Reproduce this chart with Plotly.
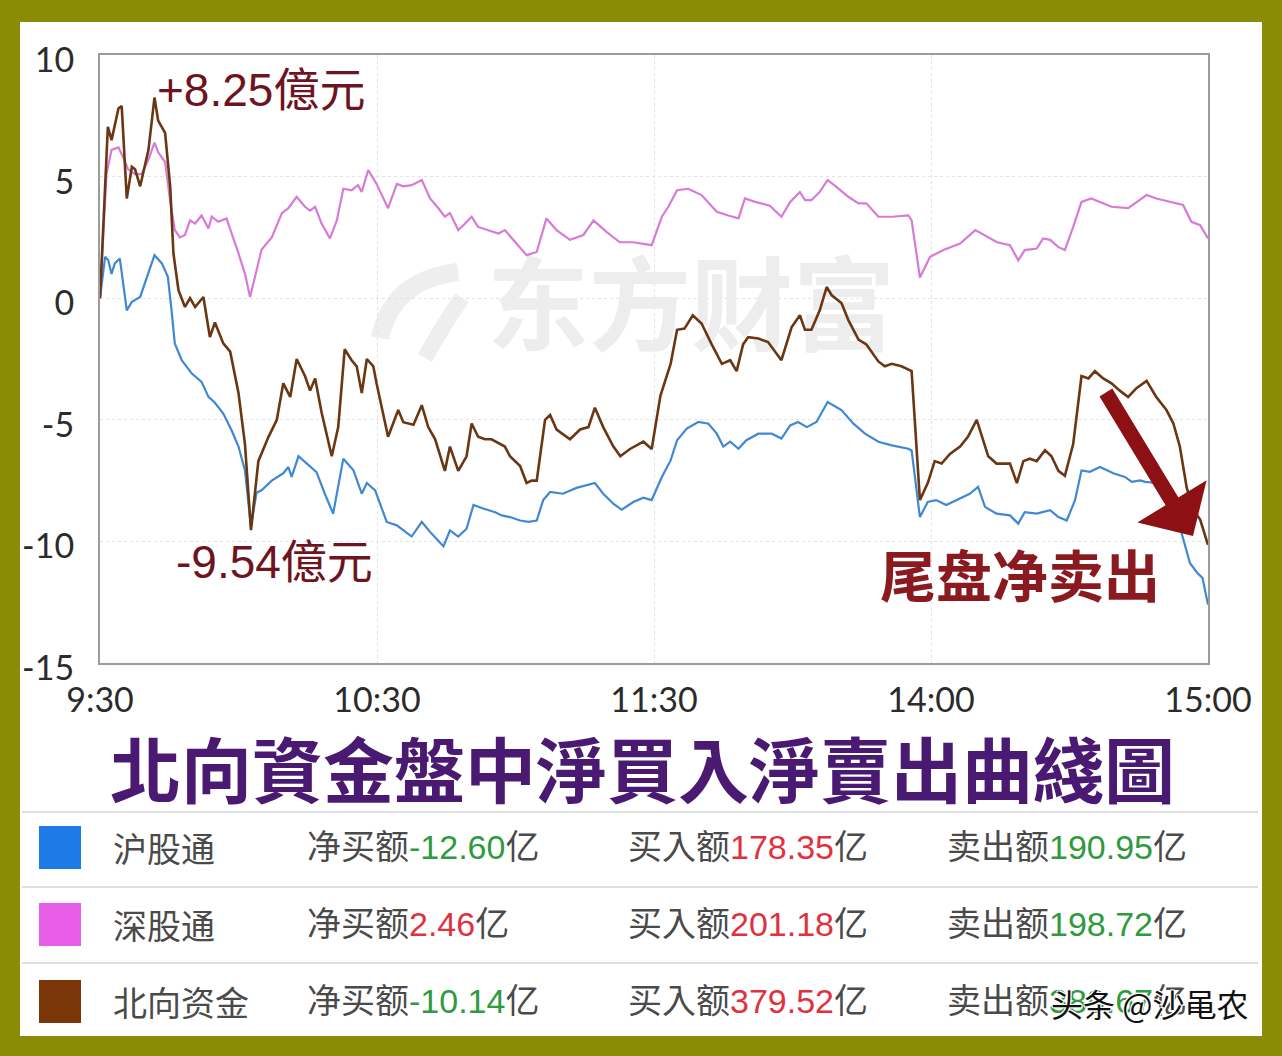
import plotly.graph_objects as go

# ---- intraday net flow series (minutes after 9:30 on a 240-minute trading clock, 亿元) ----
north_min = [0, 1.7, 2.5, 4.0, 4.7, 5.8, 6.9, 7.6, 8.7, 10.5, 11.8, 12.6, 14.1, 15.2, 15.9, 17.0,
             18.4, 19.5, 20.6, 22.4, 23.8, 24.9, 26.7, 28.2, 30.0, 31.4, 32.7, 34.3, 36.5, 38.3,
             39.7, 41.2, 42.6, 44.4, 45.5, 46.6, 48.0, 50.2, 51.6, 53.0, 54.5, 55.6, 56.7, 57.8,
             59.2, 59.9, 62.4, 64.6, 65.7, 67.9, 69.7, 71.1, 72.6, 74.7, 75.8, 77.6, 79.4, 80.5,
             81.9, 83.4, 84.8, 87.7, 88.8, 91.0, 92.4, 93.5, 94.6, 96.4, 97.5, 98.9, 101.8, 104.0,
             105.8, 107.2, 109.0, 111.2, 112.7, 114.8, 117.7, 119.5, 121.4, 123.6, 125.0, 126.6,
             128.4, 130.3, 132.5, 134.7, 136.5, 137.9, 139.3, 140.4, 142.6, 144.7, 147.6, 149.8,
             151.6, 152.7, 154.1, 155.9, 157.4, 158.5, 160.6, 162.1, 164.3, 166.0, 168.6, 170.0,
             171.5, 173.6, 175.8, 177.6, 179.3, 180.8, 182.3, 184.1, 186.3, 188.0, 189.9, 191.0,
             192.4, 194.2, 197.1, 198.6, 200.0, 201.4, 202.9, 204.7, 206.1, 207.6, 209.0, 210.8,
             212.6, 214.1, 215.5, 217.3, 219.1, 220.9, 222.7, 224.5, 226.7, 228.8, 231.0, 232.5,
             233.9, 235.4, 236.8, 238.3, 240.0]
north_val = [0.0, 7.05, 6.5, 7.8, 7.9, 4.1, 5.4, 5.3, 4.6, 6.1, 8.25, 7.3, 6.8, 4.6, 1.85, 0.33,
             -0.36, 0.0, -0.36, 0.05, -1.6, -1.0, -1.86, -2.2, -3.9, -6.0, -9.54, -6.7, -5.7, -5.0,
             -3.5, -4.06, -2.5, -3.2, -3.8, -3.3, -4.7, -6.5, -5.3, -2.1, -2.55, -2.8, -3.9, -2.5,
             -2.8, -3.5, -5.7, -4.6, -5.1, -5.2, -4.4, -5.3, -5.8, -7.1, -6.1, -7.1, -6.5, -5.15,
             -5.7, -5.8, -5.8, -6.1, -6.5, -6.9, -7.6, -7.5, -7.5, -5.0, -4.8, -5.4, -5.8, -5.4,
             -5.3, -4.5, -5.3, -6.1, -6.5, -6.2, -5.9, -6.2, -4.0, -2.7, -1.3, -1.25,
             -0.7, -1.04, -1.9, -2.7, -2.55, -3.0, -1.9, -1.6, -1.66, -1.8, -2.55, -1.2,
             -0.7, -1.3, -1.3, -0.5, 0.46, 0.12, -0.2, -0.9, -1.7, -1.9, -2.6, -2.8,
             -2.7, -2.8, -3.0, -8.3, -7.6, -6.7, -6.8, -6.4, -6.1, -5.7, -5.0, -5.7,
             -6.5, -6.8, -6.8, -7.6, -6.7, -6.6, -6.7, -6.25, -6.5, -7.1, -7.3, -6.0,
             -3.2, -3.3, -3.0, -3.3, -3.5, -3.8, -4.06, -3.7, -3.4, -4.06, -4.6, -5.15,
             -6.1, -7.8, -8.7, -9.1, -10.14]

sz_min = [0, 1.4, 2.5, 4.0, 5.0, 6.1, 7.6, 9.0, 10.5, 11.8, 12.6, 14.1, 15.2, 16.2, 17.3, 18.4,
          19.5, 20.6, 22.0, 23.5, 24.2, 25.6, 27.4, 28.9, 30.0, 31.4, 32.5, 33.6, 35.0, 37.2,
          39.4, 40.8, 42.6, 44.4, 45.5, 46.6, 48.0, 49.8, 51.3, 52.7, 54.5, 55.9, 56.7, 58.1,
          59.9, 62.4, 64.3, 65.7, 67.5, 69.7, 71.5, 73.3, 74.7, 75.8, 77.6, 78.7, 80.5, 81.9,
          84.1, 86.3, 87.7, 89.5, 91.0, 92.4, 94.6, 96.7, 98.9, 101.8, 104.7, 106.9, 109.7,
          112.6, 115.5, 117.7, 119.5, 121.7, 123.1, 125.0, 127.4, 130.3, 133.6, 136.1, 138.3,
          139.7, 141.9, 145.1, 147.6, 149.5, 151.6, 152.7, 154.1, 155.9, 157.6, 159.5, 162.1,
          164.3, 166.0, 168.6, 171.5, 175.1, 175.8, 177.6, 179.8, 182.7, 186.3, 189.6, 191.4,
          194.3, 197.1, 198.9, 200.3, 202.9, 204.3, 205.8, 207.6, 209.0, 210.8, 212.6, 214.7,
          217.3, 219.1, 222.7, 224.5, 226.7, 228.8, 231.7, 234.6, 236.4, 238.3, 240.0]
sz_val = [0.0, 5.1, 6.1, 6.2, 5.8, 5.3, 5.1, 5.1, 5.7, 6.4, 6.0, 5.6, 4.0, 2.8, 2.5, 2.6,
          3.2, 3.07, 3.4, 2.87, 3.35, 3.14, 3.28, 2.5, 1.84, 1.0, 0.05, 0.9, 2.0, 2.5,
          3.5, 3.7, 4.17, 3.76, 3.6, 3.76, 3.07, 2.46, 3.2, 4.5, 4.44, 4.65, 4.37, 5.27,
          4.7, 3.7, 4.7, 4.6, 4.65, 4.86, 4.1, 3.7, 3.35, 3.5, 2.8, 3.0, 3.35, 2.93,
          2.8, 2.66, 2.8, 2.4, 2.1, 1.77, 1.9, 3.28, 2.8, 2.4, 2.6, 3.2, 2.73,
          2.3, 2.3, 2.25, 2.18, 3.35, 3.76, 4.44, 4.5, 4.24, 3.55, 3.4, 3.28,
          4.1, 3.96, 3.8, 3.35, 3.96, 4.37, 4.03, 4.03, 4.37, 4.86, 4.58, 4.17,
          3.9, 3.9, 3.35, 3.35, 3.4, 3.2, 0.85, 1.7, 1.98, 2.25, 2.8, 2.6,
          2.3, 2.18, 1.56, 1.98, 2.04, 2.46, 2.4, 2.1, 1.98, 2.93, 3.96, 4.1,
          3.9, 3.76, 3.7, 3.96, 4.24, 4.1, 3.96, 3.83, 3.14, 3.0, 2.46]

sh_min = [0, 1.1, 1.8, 2.5, 3.2, 4.3, 5.8, 6.9, 8.7, 10.5, 11.8, 13.4, 14.7, 15.5, 16.2, 17.7,
          19.9, 22.0, 23.5, 24.9, 26.7, 28.5, 30.0, 31.4, 32.7, 33.9, 35.0, 37.2, 39.7, 40.8,
          41.5, 43.0, 45.1, 46.9, 48.7, 50.5, 52.7, 54.9, 56.7, 57.8, 59.6, 62.1, 64.3, 65.7,
          67.5, 69.7, 71.8, 74.4, 75.8, 77.6, 79.4, 80.9, 83.0, 85.6, 87.0, 88.8, 91.0, 92.8,
          94.6, 96.0, 97.5, 100.3, 103.2, 107.2, 109.0, 111.2, 113.0, 115.5, 117.7, 119.5,
          121.7, 123.6, 125.0, 127.1, 129.6, 131.8, 133.6, 135.0, 136.5, 138.3, 140.0, 142.6,
          145.5, 147.6, 149.5, 151.2, 153.1, 155.2, 157.6, 160.6, 163.2, 165.7, 168.6, 171.5,
          175.1, 175.8, 177.6, 179.3, 181.1, 183.3, 186.3, 188.4, 190.2, 191.7, 194.2, 197.1,
          198.9, 200.3, 202.9, 205.8, 207.6, 209.4, 211.2, 212.6, 214.4, 216.6, 219.5, 222.0,
          223.5, 225.3, 226.4, 228.8, 231.0, 232.5, 233.9, 236.1, 237.7, 238.8, 240.0]
sh_val = [0.0, 1.7, 1.56, 1.0, 1.43, 1.63, -0.5, -0.15, 0.05, 1.0, 1.77, 1.43, 0.88, -0.5, -1.86, -2.55,
          -3.1, -3.44, -4.06, -4.3, -4.74, -5.43, -6.1, -7.08, -9.4, -8.0, -7.9, -7.5, -7.2, -6.94,
          -7.35, -6.5, -6.87, -7.15, -8.04, -8.86, -6.6, -7.08, -8.04, -7.6, -7.9, -9.2, -9.34, -9.55,
          -9.8, -9.2, -9.68, -10.2, -9.55, -9.8, -9.48, -8.5, -8.65, -8.8, -8.93, -9.0, -9.14, -9.2,
          -9.14, -8.3, -7.97, -8.04, -7.8, -7.6, -8.04, -8.45, -8.7, -8.38, -8.2, -8.3,
          -7.35, -6.67, -5.84, -5.36, -5.09, -5.16, -5.57, -6.1, -5.9, -6.19, -5.84, -5.57,
          -5.57, -5.77, -5.23, -5.09, -5.3, -5.09, -4.27, -4.6, -5.16, -5.57, -5.9, -6.05,
          -6.19, -6.26, -9.0, -8.38, -8.3, -8.5, -8.24, -8.04, -7.76, -8.58, -8.86, -8.93,
          -9.27, -8.8, -8.86, -8.72, -9.0, -9.14, -8.3, -7.08, -7.14, -6.94, -7.2, -7.35,
          -7.55, -7.49, -7.55, -7.6, -8.4, -9.0, -9.4, -10.9, -11.3, -11.5, -12.6]

# ---- axis ticks ----
x_tickvals = [0, 60, 120, 180, 240]
x_ticktext = ["9:30", "10:30", "11:30", "14:00", "15:00"]
y_tickvals = [-15, -10, -5, 0, 5, 10]
y_ticktext = ["-15", "-10", "-5", "0", "5", "10"]

# ---- summary table ----
table_names = ["沪股通", "深股通", "北向资金"]
table_colors = ["#1d7ae6", "#e85ee8", "#7a3608"]
net_buy = ["-12.60", "2.46", "-10.14"]
buy_amt = ["178.35", "201.18", "379.52"]
sell_amt = ["190.95", "198.72", "389.67"]

# ---- page geometry (pixels) ----
W, H = 1282, 1056
ML, MR, MT, MB = 100, 74, 55, 393
PW, PH = W - ML - MR, H - MT - MB


def px(x):
    return (x - ML) / PW


def py(y):
    return (H - MB - y) / PH


def path_px(points):
    """Quadratic-curve path through pixel points, expressed in paper units."""
    (x0, y0), (cx, cy), (x1, y1) = points
    return (f"M {px(x0)},{py(y0)} Q {px(cx)},{py(cy)} {px(x1)},{py(y1)}")


fig = go.Figure()

# faint watermark behind the curves
fig.add_trace(go.Scatter(
    x=[128], y=[-0.8], mode="text", text=["东方财富"], hoverinfo="skip", showlegend=False,
    textfont=dict(family="Noto Sans CJK SC", size=102, color="#ededed", weight="bold"),
))

fig.add_trace(go.Scatter(x=sz_min, y=sz_val, mode="lines", name="深股通",
                         line=dict(color="#d77ad8", width=2.2)))
fig.add_trace(go.Scatter(x=sh_min, y=sh_val, mode="lines", name="沪股通",
                         line=dict(color="#4089d2", width=2.2)))
fig.add_trace(go.Scatter(x=north_min, y=north_val, mode="lines", name="北向资金",
                         line=dict(color="#6b3612", width=2.6)))

anns = []
cjk_num = "Liberation Sans, Noto Sans CJK TC"

# morning peak and trough of the northbound total
morning = [i for i, m in enumerate(north_min) if m <= 60]
i_peak = max(morning, key=lambda i: north_val[i])
i_low = min(morning, key=lambda i: north_val[i])
anns.append(dict(x=north_min[i_peak], y=north_val[i_peak], xref="x", yref="y",
                 text=f"+{north_val[i_peak]:.2f}億元", showarrow=False,
                 xanchor="left", yanchor="middle", xshift=1, yshift=8,
                 font=dict(family=cjk_num, size=46, color="#6e1420")))
anns.append(dict(x=north_min[i_low], y=north_val[i_low], xref="x", yref="y",
                 text=f"{north_val[i_low]:.2f}億元", showarrow=False,
                 xanchor="center", yanchor="top", xshift=24, yshift=-4,
                 font=dict(family=cjk_num, size=46, color="#6e1420")))

# closing sell-off callout
anns.append(dict(x=px(1020), y=py(572), xref="paper", yref="paper", text="尾盘净卖出",
                 showarrow=False, xanchor="center", yanchor="middle",
                 font=dict(family="Noto Sans CJK SC", size=56, color="#8a1a1f", weight="bold")))
anns.append(dict(x=px(1193), y=py(536), xref="paper", yref="paper", text="",
                 showarrow=True, ax=-88, ay=-145, arrowhead=1, arrowsize=0.9,
                 arrowwidth=15, arrowcolor="#8c1014", standoff=0))

# chart title
anns.append(dict(x=px(642), y=py(766), xref="paper", yref="paper",
                 text="北向資金盤中淨買入淨賣出曲綫圖", showarrow=False,
                 xanchor="center", yanchor="middle",
                 font=dict(family="Noto Sans CJK TC", size=71, color="#4a1a72", weight="bold")))

shapes = [
    # white card over the olive page
    dict(type="rect", xref="paper", yref="paper", x0=px(20), x1=px(1262), y0=py(1036), y1=py(22),
         fillcolor="white", line=dict(width=0), layer="below"),
    # faint swoosh logo next to the watermark text
    dict(type="path", xref="paper", yref="paper", layer="below",
         path=path_px([(458, 272), (392, 280), (380, 338)]),
         line=dict(color="#eeeeee", width=18)),
    dict(type="path", xref="paper", yref="paper", layer="below",
         path=path_px([(462, 298), (440, 330), (425, 358)]),
         line=dict(color="#eeeeee", width=16)),
]

# table separators
for ysep in [812, 887, 963]:
    shapes.append(dict(type="line", xref="paper", yref="paper", x0=px(22), x1=px(1258),
                       y0=py(ysep), y1=py(ysep), line=dict(color="#e0e0e0", width=2)))

row_y = [847, 924, 1001]
label_font = dict(family="Noto Sans CJK SC", size=34, color="#4a4a4a")
cell_font = dict(family=cjk_num, size=34, color="#4a4a4a")
green, red = "#2f9a3e", "#e0323e"
for i, name in enumerate(table_names):
    yc = row_y[i]
    shapes.append(dict(type="rect", xref="paper", yref="paper", x0=px(39), x1=px(81),
                       y0=py(yc + 22), y1=py(yc - 21), fillcolor=table_colors[i],
                       line=dict(width=0)))
    anns.append(dict(x=px(111), y=py(yc), xref="paper", yref="paper", text=name,
                     showarrow=False, xanchor="left", yanchor="middle", font=label_font))
    nb_color = red if not net_buy[i].startswith("-") else green
    anns.append(dict(x=px(305), y=py(yc), xref="paper", yref="paper",
                     text=f"净买额<span style='color:{nb_color}'>{net_buy[i]}</span>亿",
                     showarrow=False, xanchor="left", yanchor="middle", font=cell_font))
    anns.append(dict(x=px(626), y=py(yc), xref="paper", yref="paper",
                     text=f"买入额<span style='color:{red}'>{buy_amt[i]}</span>亿",
                     showarrow=False, xanchor="left", yanchor="middle", font=cell_font))
    anns.append(dict(x=px(945), y=py(yc), xref="paper", yref="paper",
                     text=f"卖出额<span style='color:{green}'>{sell_amt[i]}</span>亿",
                     showarrow=False, xanchor="left", yanchor="middle", font=cell_font))

# author tag
anns.append(dict(x=px(1250), y=py(1003), xref="paper", yref="paper", text="头条 @沙黾农",
                 showarrow=False, xanchor="right", yanchor="middle",
                 font=dict(family="Noto Sans CJK SC", size=32, color="#111111",
                           shadow="-1px -1px 0 #fff, 1px -1px 0 #fff, -1px 1px 0 #fff, 1px 1px 0 #fff")))

fig.update_layout(
    width=W, height=H,
    margin=dict(l=ML, r=MR, t=MT, b=MB),
    paper_bgcolor="#8a8b06",
    plot_bgcolor="white",
    showlegend=False,
    annotations=anns,
    shapes=shapes,
    xaxis=dict(range=[0, 240], tickvals=x_tickvals, ticktext=x_ticktext,
               showgrid=True, gridcolor="#e2e2e2", griddash="dot", gridwidth=1,
               showline=True, mirror=True, linecolor="#9c9c9c", linewidth=2,
               zeroline=False, ticks="", ticklabelstandoff=6,
               tickfont=dict(family="Lato", size=34, color="#2b2b2b")),
    yaxis=dict(range=[-15, 10], tickvals=y_tickvals, ticktext=y_ticktext,
               showgrid=True, gridcolor="#e2e2e2", griddash="dot", gridwidth=1,
               showline=True, mirror=True, linecolor="#9c9c9c", linewidth=2,
               zeroline=False, ticks="", ticklabelstandoff=17, ticklabelshift=5,
               tickfont=dict(family="Lato", size=34, color="#2b2b2b")),
)

fig.write_html("out.html")
